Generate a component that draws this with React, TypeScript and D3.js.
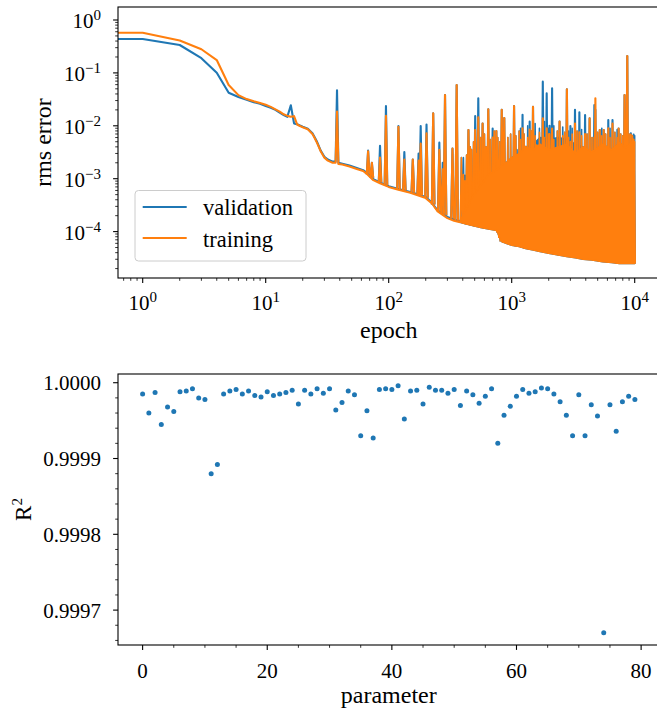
import React from 'react';
import * as d3 from 'd3';

// ---------------- Top chart data (rms error vs epoch) ----------------
const epochs = [0, 1, 2, 3, 4, 5, 6, 7, 8, 9, 10, 11, 12, 13, 14, 15, 16, 17, 18, 19, 20, 22, 24, 25, 26, 28, 30, 32, 35, 37, 38, 39, 42, 48, 55, 62, 66, 75, 85, 100, 120, 150, 200, 225, 250, 300, 340, 380];
const validationRms = [0.437, 0.437, 0.337, 0.19, 0.101, 0.042, 0.035, 0.031, 0.028, 0.026, 0.0237, 0.022, 0.020, 0.0177, 0.016, 0.0148, 0.0245, 0.0111, 0.0107, 0.0101, 0.0096, 0.0088, 0.0072, 0.0061, 0.0051, 0.0034, 0.0026, 0.0023, 0.0021, 0.0021, 0.047, 0.0020, 0.00192, 0.00178, 0.0016, 0.00145, 0.0013, 0.00098, 0.00085, 0.00072, 0.00064, 0.00056, 0.00045, 0.00035, 0.00025, 0.00019, 0.00017, 0.000155];
const trainingRms = [0.575, 0.575, 0.41, 0.28, 0.175, 0.059, 0.038, 0.032, 0.029, 0.027, 0.025, 0.0228, 0.0205, 0.0185, 0.0165, 0.0154, 0.0148, 0.0152, 0.0106, 0.0099, 0.0094, 0.0086, 0.0070, 0.0059, 0.0049, 0.0033, 0.0025, 0.0022, 0.0020, 0.0020, 0.0185, 0.0019, 0.00185, 0.0017, 0.00153, 0.0014, 0.00125, 0.00094, 0.00082, 0.0007, 0.00062, 0.00054, 0.00043, 0.00034, 0.00024, 0.00018, 0.00016, 0.00015];

// isolated large spikes
const spikeEpochs = [68, 73, 85, 95, 120, 134, 157, 175, 182, 203, 230, 258, 275, 287, 330, 357, 417, 445, 470, 505, 535, 580, 645, 700, 750, 830, 870, 1045, 1100, 1225, 1300, 1400, 1490, 1600, 1790, 1925, 2030, 2130, 2450, 2810, 3000, 3270, 3550, 3950, 4300, 4700, 4790, 5200, 5600, 6100, 6600, 7400, 8270, 8700, 9300, 9800];
const spikeValidation = [3.4e-3, 2.0e-3, 4.2e-3, 0.0235, 9.9e-3, 3.2e-3, 2.3e-3, 3.0e-3, 9.9e-3, 0.0106, 0.0172, 4.8e-3, 2.0e-3, 0.038, 3.7e-3, 0.059, 1.15e-3, 8.3e-3, 3.5e-3, 0.0153, 0.033, 0.011, 0.0205, 8.9e-3, 8e-3, 0.02, 0.014, 0.0237, 3.5e-3, 0.0161, 4e-3, 0.012, 0.0229, 4.3e-3, 0.0683, 0.041, 0.01, 0.051, 0.012, 0.049, 0.0099, 0.02, 0.018, 0.016, 0.0138, 0.0246, 0.02, 8.3e-3, 8.3e-3, 0.0129, 0.0129, 8.9e-3, 0.038, 0.209, 7.2e-3, 6.8e-3];
const spikeTraining = [3.3e-3, 2.0e-3, 2.5e-3, 0.0155, 9.6e-3, 2.3e-3, 2.3e-3, 2.2e-3, 4.6e-3, 7.2e-3, 0.0172, 3.5e-3, 1.5e-3, 0.038, 3.7e-3, 0.059, 9e-4, 8.3e-3, 3.5e-3, 8.3e-3, 0.0144, 0.011, 0.0205, 6e-3, 8e-3, 0.02, 0.014, 0.0237, 1.5e-3, 9e-3, 4e-3, 8.5e-3, 0.0229, 4.3e-3, 0.0138, 9e-3, 7e-3, 8.9e-3, 0.012, 0.049, 5e-3, 0.011, 7.5e-3, 7e-3, 0.0138, 6e-3, 0.033, 8.3e-3, 8.3e-3, 9e-3, 0.011, 8.9e-3, 0.038, 0.209, 6.8e-3, 5.5e-3];

// smaller, densely packed spikes on top of the oscillating band
const denseSpikeEpochs = [390, 405, 430, 460, 490, 520, 560, 600, 620, 670, 720, 770, 800, 860, 930, 980, 1080, 1150, 1180, 1260, 1350, 1450, 1550, 1680, 1850, 2000, 2200, 2350, 2600, 2700, 2900, 3100, 3400, 3700, 4100, 4500, 5000, 5400, 5800, 6300, 6900, 7200, 7700, 8000, 9000, 9600];
const denseSpikeValidation = [2.5e-3, 2.5e-3, 2.8e-3, 4.0e-3, 5.0e-3, 3.0e-3, 6.0e-3, 7.0e-3, 4.0e-3, 5.5e-3, 8.0e-3, 6.0e-3, 5.0e-3, 7.5e-3, 6.0e-3, 7.0e-3, 6.5e-3, 8.0e-3, 9.0e-3, 7.0e-3, 1.0e-2, 8.0e-3, 1.1e-2, 9.0e-3, 1.2e-2, 9.0e-3, 1.0e-2, 8.0e-3, 9.5e-3, 7.5e-3, 8.0e-3, 9.0e-3, 8.0e-3, 8.5e-3, 7.0e-3, 6.0e-3, 7.5e-3, 9.0e-3, 7.0e-3, 9.0e-3, 7.5e-3, 8.5e-3, 7.0e-3, 6.5e-3, 7.0e-3, 6.5e-3];
const denseSpikeTraining = [2.5e-3, 1.2e-3, 2.8e-3, 4.0e-3, 5.0e-3, 3.0e-3, 6.0e-3, 7.0e-3, 4.0e-3, 5.5e-3, 8.0e-3, 6.0e-3, 5.0e-3, 7.5e-3, 6.0e-3, 7.0e-3, 6.5e-3, 8.0e-3, 5.5e-3, 7.0e-3, 6.0e-3, 8.0e-3, 6.5e-3, 7.5e-3, 6.0e-3, 7.0e-3, 5.5e-3, 8.0e-3, 6.5e-3, 7.5e-3, 6.0e-3, 7.0e-3, 8.0e-3, 6.5e-3, 7.0e-3, 6.0e-3, 7.5e-3, 6.5e-3, 7.0e-3, 6.0e-3, 7.5e-3, 6.0e-3, 7.0e-3, 6.5e-3, 7.0e-3, 6.5e-3];

// dense oscillation region: lower envelope and top of the filled band
const tailEpochs = [380, 420, 480, 560, 650, 760, 790, 830, 900, 1000, 1150, 1300, 1500, 1700, 2000, 2400, 2800, 3300, 3800, 4500, 5500, 6500, 7500, 8500, 9500, 10000];
const tailLow = [1.5e-4, 1.4e-4, 1.3e-4, 1.2e-4, 1.12e-4, 1.05e-4, 8e-5, 6.5e-5, 6e-5, 5.5e-5, 5.2e-5, 4.8e-5, 4.5e-5, 4.2e-5, 3.9e-5, 3.6e-5, 3.4e-5, 3.2e-5, 3.0e-5, 2.9e-5, 2.7e-5, 2.6e-5, 2.5e-5, 2.5e-5, 2.5e-5, 2.5e-5];
const tailTopTraining = [1.6e-4, 2.5e-4, 4.5e-4, 7.5e-4, 1.2e-3, 1.5e-3, 1.6e-3, 1.8e-3, 2.0e-3, 2.5e-3, 3.0e-3, 4.0e-3, 3.5e-3, 4.5e-3, 3.5e-3, 4.0e-3, 4.5e-3, 3.0e-3, 4.0e-3, 3.2e-3, 4.5e-3, 3.5e-3, 4.8e-3, 3.8e-3, 5.0e-3, 5.0e-3];
const tailTopValidation = [1.6e-4, 2.5e-4, 4.5e-4, 7.5e-4, 1.2e-3, 1.5e-3, 1.6e-3, 1.8e-3, 2.0e-3, 2.5e-3, 3.0e-3, 4.0e-3, 4.5e-3, 6.0e-3, 5.5e-3, 6.0e-3, 5.5e-3, 4.5e-3, 4.0e-3, 3.2e-3, 4.5e-3, 3.5e-3, 4.8e-3, 3.8e-3, 5.0e-3, 6.5e-3];

const epochTickExponents = [0, 1, 2, 3, 4];
const rmsTickExponents = [0, -1, -2, -3, -4];
const seriesNames = ['validation', 'training'];

// ---------------- Bottom chart data (R² per parameter) ----------------
const parameters = d3.range(80);
const r2Values = [
  0.999985, 0.999960, 0.999987, 0.999945, 0.999968, 0.999962, 0.999988, 0.999989, 0.999992, 0.999980,
  0.999978, 0.999880, 0.999892, 0.999985, 0.999989, 0.999991, 0.999985, 0.999989, 0.999983, 0.999981,
  0.999988, 0.999983, 0.999985, 0.999987, 0.999990, 0.999972, 0.999990, 0.999985, 0.999992, 0.999986,
  0.999992, 0.999964, 0.999974, 0.999989, 0.999984, 0.999930, 0.999963, 0.999927, 0.999991, 0.999992,
  0.999991, 0.999996, 0.999952, 0.999989, 0.999990, 0.999972, 0.999994, 0.999990, 0.999990, 0.999986,
  0.999991, 0.999970, 0.999989, 0.999984, 0.999973, 0.999982, 0.999992, 0.999920, 0.999957, 0.999969,
  0.999982, 0.999991, 0.999986, 0.999988, 0.999993, 0.999992, 0.999985, 0.999975, 0.999957, 0.999930,
  0.999984, 0.999930, 0.999971, 0.999956, 0.999670, 0.999971, 0.999936, 0.999975, 0.999982, 0.999978,
];
const r2Ticks = [0.9997, 0.9998, 0.9999, 1.0];
const paramTicks = [0, 20, 40, 60, 80];

const BLUE = '#1f77b4';
const ORANGE = '#ff7f0e';
const FONT = '"Liberation Serif", "DejaVu Serif", serif';

export default function App() {
  const W = 657, H = 716;
  const A = { l: 118, r: 659.5, t: 7, b: 278 };
  const B = { l: 118, r: 659.5, t: 374, b: 645 };

  const x1 = d3.scaleLog().domain([Math.pow(10, -0.2008), Math.pow(10, 4.2016)]).range([A.l, A.r]);
  const y1 = d3.scaleLog().domain([Math.pow(10, -4.877), Math.pow(10, 0.2457)]).range([A.b, A.t]);
  const x2 = d3.scaleLinear().domain([-3.95, 82.95]).range([B.l, B.r]);
  const y2 = d3.scaleLinear().domain([0.99965396, 1.0000115]).range([B.b, B.t]);

  const ex = (e: number) => (e > 0 ? x1(e) : A.l - 30);

  const lineFor = (vals: number[]) =>
    d3.line<number>().x((_, i) => ex(epochs[i])).y((v) => y1(v))(vals) || '';

  const areaFor = (tops: number[]) =>
    d3.area<number>()
      .x((_, i) => x1(tailEpochs[i]))
      .y0((_, i) => y1(tailLow[i]))
      .y1((v) => y1(v))(tops) || '';

  // lower envelope used to anchor spike bases
  const baseE: number[] = [];
  const baseV: number[] = [];
  epochs.forEach((e, i) => { if (e >= 42 && e < 380) { baseE.push(e); baseV.push(y1(validationRms[i])); } });
  tailEpochs.forEach((e, i) => { baseE.push(e); baseV.push(y1(tailLow[i])); });
  const baseY = d3.scaleLog().domain(baseE).range(baseV).clamp(true);

  const spikePath = (es: number[], peaks: number[], half: number) =>
    es.map((e, i) => {
      const x = x1(e);
      const yb = baseY(e);
      const yp = y1(peaks[i]);
      return `M${x - half},${yb}L${x},${yp}L${x + half},${yb}`;
    }).join('');

  // minor ticks
  const xMinor1: number[] = [];
  for (let k = -1; k <= 4; k++) for (let m = 2; m <= 9; m++) {
    const v = m * Math.pow(10, k);
    if (v > x1.domain()[0] && v < x1.domain()[1]) xMinor1.push(v);
  }
  const yMinor1: number[] = [];
  for (let k = -5; k <= 0; k++) for (let m = 2; m <= 9; m++) {
    const v = m * Math.pow(10, k);
    if (v > y1.domain()[0] && v < y1.domain()[1]) yMinor1.push(v);
  }
  const xMinor2 = d3.range(0, 81, 5).filter((v) => v % 20 !== 0);
  const yMinor2 = d3.range(0, 18).map((k) => 0.99966 + k * 0.00002).filter((v) => v < 1.00001 && Math.abs(((v - 0.9997) / 0.0001) - Math.round((v - 0.9997) / 0.0001)) > 0.01);

  const lw = 2.1;

  return (
    <div style={{ position: 'absolute', left: 0, top: 0 }}>
      <svg width={W} height={H} style={{ display: 'block', background: '#fff' }} fontFamily={FONT}>
        <defs>
          <clipPath id="clipA"><rect x={A.l} y={A.t} width={A.r - A.l} height={A.b - A.t} /></clipPath>
          <clipPath id="clipB"><rect x={B.l} y={B.t} width={B.r - B.l} height={B.b - B.t} /></clipPath>
        </defs>

        {/* ------------ Top chart ------------ */}
        <g clipPath="url(#clipA)">
          <path d={lineFor(validationRms)} fill="none" stroke={BLUE} strokeWidth={lw} strokeLinejoin="round" />
          <path d={spikePath(spikeEpochs, spikeValidation, 1.3)} fill="none" stroke={BLUE} strokeWidth={lw} strokeLinejoin="round" />
          <path d={spikePath(denseSpikeEpochs, denseSpikeValidation, 1.0)} fill="none" stroke={BLUE} strokeWidth={1.6} strokeLinejoin="round" />
          <path d={areaFor(tailTopValidation)} fill={BLUE} stroke={BLUE} strokeWidth={1.5} strokeLinejoin="round" />
          <path d={lineFor(trainingRms)} fill="none" stroke={ORANGE} strokeWidth={lw} strokeLinejoin="round" />
          <path d={spikePath(spikeEpochs, spikeTraining, 1.3)} fill="none" stroke={ORANGE} strokeWidth={lw} strokeLinejoin="round" />
          <path d={spikePath(denseSpikeEpochs, denseSpikeTraining, 1.0)} fill="none" stroke={ORANGE} strokeWidth={1.6} strokeLinejoin="round" />
          <path d={areaFor(tailTopTraining)} fill={ORANGE} stroke={ORANGE} strokeWidth={1.5} strokeLinejoin="round" />
        </g>
        <rect x={A.l} y={A.t} width={A.r - A.l} height={A.b - A.t} fill="none" stroke="#000" strokeWidth={1.1} />

        {xMinor1.map((v) => (
          <line key={'xm1' + v} x1={x1(v)} x2={x1(v)} y1={A.b} y2={A.b + 2.8} stroke="#000" strokeWidth={0.8} />
        ))}
        {epochTickExponents.map((k) => {
          const x = x1(Math.pow(10, k));
          return (
            <g key={'xt1' + k}>
              <line x1={x} x2={x} y1={A.b} y2={A.b + 4.9} stroke="#000" strokeWidth={1.1} />
              <text x={x} y={310} textAnchor="middle" fontSize={21} fill="#000">
                10<tspan dy={-8} fontSize={15}>{String(k)}</tspan>
              </text>
            </g>
          );
        })}
        {yMinor1.map((v) => (
          <line key={'ym1' + v} x1={A.l - 2.8} x2={A.l} y1={y1(v)} y2={y1(v)} stroke="#000" strokeWidth={0.8} />
        ))}
        {rmsTickExponents.map((k) => {
          const y = y1(Math.pow(10, k));
          return (
            <g key={'yt1' + k}>
              <line x1={A.l - 4.9} x2={A.l} y1={y} y2={y} stroke="#000" strokeWidth={1.1} />
              <text x={101} y={y + 8} textAnchor="end" fontSize={21} fill="#000">
                10<tspan dy={-8} fontSize={15}>{k === 0 ? '0' : '\u2212' + String(-k)}</tspan>
              </text>
            </g>
          );
        })}
        <text x={(A.l + A.r) / 2} y={338} textAnchor="middle" fontSize={24} fill="#000">epoch</text>
        <text transform={`translate(51,${(A.t + A.b) / 2}) rotate(-90)`} textAnchor="middle" fontSize={24} fill="#000">rms error</text>

        {/* legend */}
        <g>
          <rect x={135} y={190.5} width={171} height={70.5} rx={3.5} fill="#fff" fillOpacity={0.8} stroke="#cccccc" strokeWidth={1} />
          {seriesNames.map((name, i) => (
            <g key={name}>
              <line x1={142.7} x2={186.7} y1={207 + i * 31} y2={207 + i * 31} stroke={i === 0 ? BLUE : ORANGE} strokeWidth={lw} />
              <text x={203} y={215 + i * 31.5} fontSize={22.5} fill="#000">{name}</text>
            </g>
          ))}
        </g>

        {/* ------------ Bottom chart ------------ */}
        <g clipPath="url(#clipB)">
          {parameters.map((p, i) => (
            <circle key={'pt' + p} cx={x2(p)} cy={y2(r2Values[i])} r={2.5} fill={BLUE} />
          ))}
        </g>
        <rect x={B.l} y={B.t} width={B.r - B.l} height={B.b - B.t} fill="none" stroke="#000" strokeWidth={1.1} />
        {xMinor2.map((v) => (
          <line key={'xm2' + v} x1={x2(v)} x2={x2(v)} y1={B.b} y2={B.b + 2.8} stroke="#000" strokeWidth={0.8} />
        ))}
        {paramTicks.map((v) => (
          <g key={'xt2' + v}>
            <line x1={x2(v)} x2={x2(v)} y1={B.b} y2={B.b + 4.9} stroke="#000" strokeWidth={1.1} />
            <text x={x2(v)} y={678} textAnchor="middle" fontSize={21} fill="#000">{String(v)}</text>
          </g>
        ))}
        {yMinor2.map((v) => (
          <line key={'ym2' + v} x1={B.l - 2.8} x2={B.l} y1={y2(v)} y2={y2(v)} stroke="#000" strokeWidth={0.8} />
        ))}
        {r2Ticks.map((v) => (
          <g key={'yt2' + v}>
            <line x1={B.l - 4.9} x2={B.l} y1={y2(v)} y2={y2(v)} stroke="#000" strokeWidth={1.1} />
            <text x={101} y={y2(v) + 7.5} textAnchor="end" fontSize={21} fill="#000">{v.toFixed(4)}</text>
          </g>
        ))}
        <text x={(B.l + B.r) / 2} y={703} textAnchor="middle" fontSize={24} fill="#000">parameter</text>
        <text transform={`translate(31,${(B.t + B.b) / 2}) rotate(-90)`} textAnchor="middle" fontSize={23} fill="#000">
          R<tspan dy={-9} fontSize={15}>2</tspan>
        </text>
      </svg>
    </div>
  );
}
